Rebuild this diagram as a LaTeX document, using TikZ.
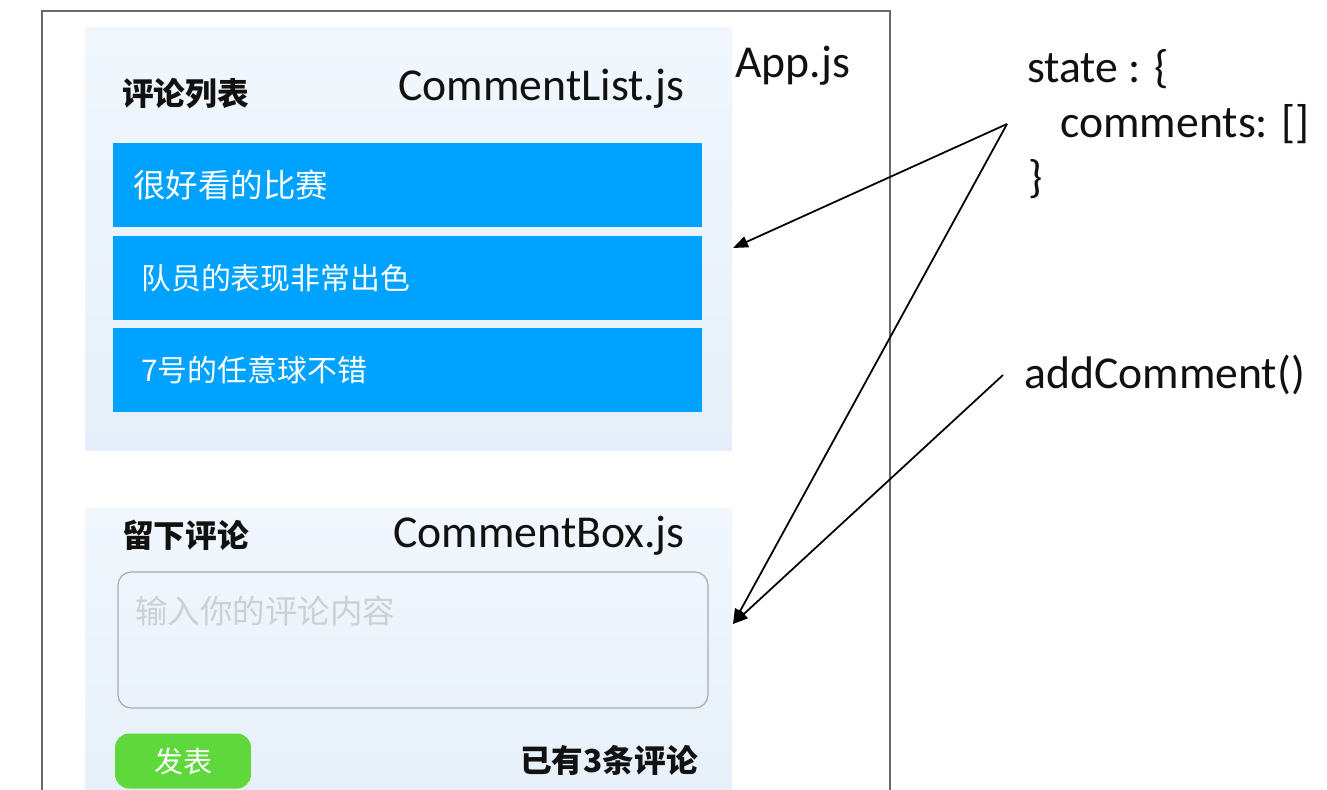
\documentclass[tikz,border=0pt]{standalone}
\usepackage{fontspec}
\setmainfont{Carlito}
\newfontfamily\cjk{Noto Sans CJK SC}
\usepackage{tikz}
\usetikzlibrary{positioning, arrows.meta}
\definecolor{frame}{HTML}{6A6A6A}
\definecolor{paneT}{HTML}{F1F7FD}
\definecolor{paneB}{HTML}{E6EFF9}
\definecolor{itemblue}{HTML}{00A2FF}
\definecolor{sendgreen}{HTML}{5FD83C}
\definecolor{hint}{HTML}{CDD1D6}
\definecolor{areaedge}{HTML}{A9ACB0}
\definecolor{ink}{HTML}{111111}

\begin{document}
\begin{tikzpicture}[
  x=0.02cm, y=-0.02cm,
  frame/.style={draw=frame, line width=1.3pt},
  pane/.style={top color=paneT, bottom color=paneB, draw=none},
  bar/.style={fill=itemblue},
  latin/.style={font=\fontsize{26}{30}\selectfont, color=ink, anchor=base west, inner sep=0pt},
  head/.style={font=\cjk\bfseries\fontsize{18}{22}\selectfont, color=ink, anchor=west, inner sep=0pt},
  entry/.style={color=white, anchor=west, inner sep=0pt},
  area/.style={draw=areaedge, line width=0.7pt, rounded corners=7.5pt},
  hinttxt/.style={font=\cjk\fontsize{18.5}{22}\selectfont, color=hint, anchor=west, inner sep=0pt},
  sendbtn/.style={fill=sendgreen, rounded corners=8pt, minimum width=2.72cm, minimum height=1.1cm,
    font=\cjk\fontsize{16.5}{20}\selectfont, text=white, inner sep=0pt},
  link/.style={-{Triangle[length=8.5pt, width=6.5pt]}, line width=1pt, color=black}
]
  \useasboundingbox (0,0) rectangle (1327,789);
  \clip (0,0) rectangle (1327,789);
  \fill[white] (0,0) rectangle (1327,789);
  \draw[frame] (42,11) rectangle (890,820);
  % comment list
  \shade[pane] (85,27) rectangle (732,450);
  \node[head] (listhead) at (122,94) {评论列表};
  \node[latin] (listname) at (398,100) {CommentList.js};
  \node[latin] (appname) at (735,77) {App.js};
  \foreach \top/\tx/\sz/\txt [count=\i] in {143/133/18.5/很好看的比赛, 236/141/17/队员的表现非常出色, 328/141/17/7号的任意球不错} {
    \fill[bar] (113,\top) rectangle (702,\top+84);
    \node[entry, font=\cjk\fontsize{\sz}{22}\selectfont] (item\i) at (\tx,\top+42) {\txt};
  }
  % comment box
  \shade[pane] (85,508) rectangle (732,820);
  \node[head] (boxhead) at (122,535) {留下评论};
  \node[latin] (boxname) at (393,547) {CommentBox.js};
  \draw[area] (118,572) rectangle (708,708);
  \node[hinttxt] (placeholder) at (135,611) {输入你的评论内容};
  \node[sendbtn] (send) at (183,761) {发表};
  \node[head, anchor=east] (total) at (698,760) {已有3条评论};
  % state and handler
  \node[latin] (statehead) at (1027,82) {state : \{};
  \node[latin] (statebody) at (1060,137) {comments: []};
  \node[latin] (stateend) at (1028,192) {\}};
  \node[latin] (adder) at (1024,388) {addComment()};
  \coordinate (stateTip) at (1007,124);
  \coordinate (adderTip) at (1003,375);
  \coordinate (listIn) at (733,248);
  \coordinate (boxIn) at (733,624);
  \draw[link] (stateTip) -- (listIn);
  \draw[link] (stateTip) -- (boxIn);
  \draw[link] (adderTip) -- (boxIn);
\end{tikzpicture}
\end{document}
